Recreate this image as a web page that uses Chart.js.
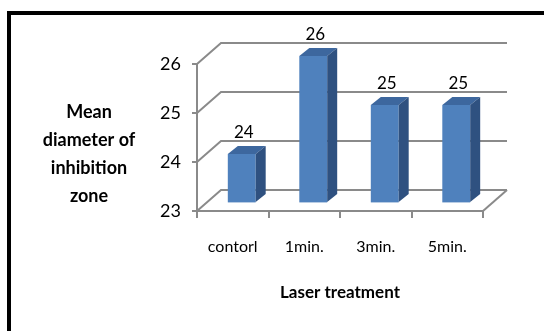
<!DOCTYPE html>
<html>
<head>
<meta charset="utf-8">
<script src="https://cdn.jsdelivr.net/npm/chart.js@4"></script>
<style>
  html, body { margin: 0; padding: 0; background: #fff; }
  #wrap { position: relative; width: 544px; height: 331px; overflow: hidden; }
  #marco { position: absolute; left: 7px; top: 11px; width: 600px; height: 400px;
           border-left: 4px solid #000; border-top: 4px solid #000; }
  canvas { position: absolute; left: 0; top: 0; }
</style>
</head>
<body>
<div id="wrap">
  <div id="marco"></div>
  <canvas id="chart" width="544" height="331"></canvas>
</div>
<script>
// Datos del grafico
var categorias = ["contorl", "1min.", "3min.", "5min."];
var valores = [24, 26, 25, 25];
var marcasY = [23, 24, 25, 26];
var tituloX = "Laser treatment";
var tituloY = ["Mean", "diameter of", "inhibition", "zone"];

var gris = "#8a8a8a";
var fuente = "Lato, 'Liberation Sans', sans-serif";

// Desplazamiento de la pared del fondo y de las barras (efecto 3D)
var fondo = { dx: 24, dy: -21 };
var barra = { dx: 9, dy: -8 };
var prof = { dx: 10, dy: -8 };

var plugin3d = {
  id: "efecto3d",
  beforeDatasetsDraw: function(chart) {
    var ctx = chart.ctx;
    var area = chart.chartArea;
    var y = chart.scales.y;
    ctx.save();
    ctx.strokeStyle = gris;
    ctx.lineWidth = 2;
    // lineas de la pared del fondo y diagonales
    marcasY.forEach(function(v) {
      var py = y.getPixelForValue(v);
      ctx.beginPath();
      ctx.moveTo(area.left, py);
      ctx.lineTo(area.left + fondo.dx, py + fondo.dy);
      ctx.lineTo(area.right + fondo.dx, py + fondo.dy);
      ctx.stroke();
    });
    // borde derecho del piso
    ctx.beginPath();
    ctx.moveTo(area.right, area.bottom);
    ctx.lineTo(area.right + fondo.dx, area.bottom + fondo.dy);
    ctx.stroke();
    ctx.restore();
    // las barras se dibujan desplazadas hacia el fondo
    ctx.save();
    ctx.translate(barra.dx, barra.dy);
  },
  afterDatasetsDraw: function(chart) {
    var ctx = chart.ctx;
    ctx.restore();
    var meta = chart.getDatasetMeta(0);
    ctx.save();
    meta.data.forEach(function(b, i) {
      var L = b.x - b.width / 2 + barra.dx;
      var R = b.x + b.width / 2 + barra.dx;
      var T = b.y + barra.dy;
      var B = b.base + barra.dy;
      // cara superior
      ctx.fillStyle = "#3d679e";
      ctx.beginPath();
      ctx.moveTo(L, T);
      ctx.lineTo(R, T);
      ctx.lineTo(R + prof.dx, T + prof.dy);
      ctx.lineTo(L + prof.dx, T + prof.dy);
      ctx.closePath();
      ctx.fill();
      // cara lateral
      ctx.fillStyle = "#2f5180";
      ctx.beginPath();
      ctx.moveTo(R, T);
      ctx.lineTo(R + prof.dx, T + prof.dy);
      ctx.lineTo(R + prof.dx, B + prof.dy);
      ctx.lineTo(R, B);
      ctx.closePath();
      ctx.fill();
      // borde claro inferior
      ctx.fillStyle = "#b8cce4";
      ctx.fillRect(L, B, R - L, 1);
      // etiqueta de valor
      ctx.fillStyle = "#000";
      ctx.font = "17px " + fuente;
      ctx.textAlign = "center";
      ctx.textBaseline = "middle";
      ctx.fillText(String(valores[i]), b.x + barra.dx + 2, T - 21);
    });
    ctx.restore();
  },
  afterDraw: function(chart) {
    // titulo del eje Y en varias lineas, horizontal
    var ctx = chart.ctx;
    ctx.save();
    ctx.fillStyle = "#000";
    ctx.font = "bold 18px " + fuente;
    ctx.textAlign = "center";
    ctx.textBaseline = "middle";
    tituloY.forEach(function(linea, i) {
      ctx.fillText(linea, 89, 112 + i * 28);
    });
    ctx.restore();
  }
};

var data = {
  labels: categorias,
  datasets: [{
    data: valores,
    base: marcasY[0],
    backgroundColor: "#4f81bd",
    borderWidth: 0,
    barPercentage: 0.39,
    categoryPercentage: 1,
    clip: false
  }]
};

var options = {
  responsive: false,
  animation: false,
  devicePixelRatio: 1,
  layout: { padding: { left: 0, top: 64, right: 61, bottom: 0 } },
  plugins: { legend: { display: false }, tooltip: { enabled: false } },
  scales: {
    x: {
      offset: true,
      grid: { offset: true, drawOnChartArea: false, drawTicks: true, tickLength: 7, color: gris, lineWidth: 2 },
      border: { display: true, color: gris, width: 2 },
      ticks: { font: { family: fuente, size: 16 }, color: "#000", padding: 19, maxRotation: 0 },
      title: { display: true, text: tituloX, color: "#000", font: { family: fuente, size: 17, weight: "bold" }, padding: { top: 0, bottom: 28 } },
      afterFit: function(scale) { scale.height = 120; }
    },
    y: {
      min: 23,
      max: 26,
      grid: { drawOnChartArea: false, drawTicks: true, tickLength: 5, color: gris, lineWidth: 2 },
      border: { display: true, color: gris, width: 2 },
      ticks: { stepSize: 1, font: { family: fuente, size: 18 }, color: "#000", padding: 11 },
      afterFit: function(scale) { scale.width = 197; }
    }
  }
};

var chart = new Chart("chart", {
  type: "bar",
  data: data,
  options: options,
  plugins: [plugin3d]
});
</script>
</body>
</html>
